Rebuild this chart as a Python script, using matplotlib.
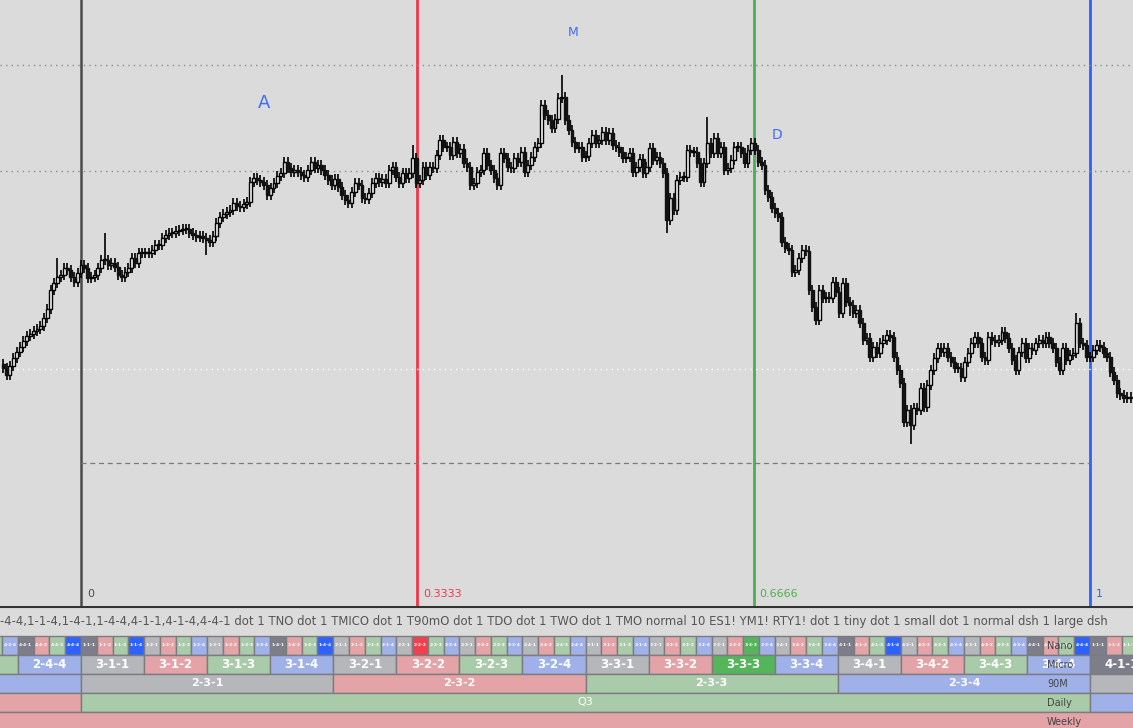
import numpy as np
import matplotlib.pyplot as plt
from matplotlib.patches import Rectangle

# close prices (y grows downward)
close_a = [368, 375, 366, 358, 352, 347, 341, 336, 334, 331, 329, 326, 318, 309,
           290, 283, 277, 275, 268, 270, 277, 282, 273, 265, 268, 278, 277, 275, 268, 260,
           260, 265, 263, 267, 275, 277, 272, 268, 258, 263, 253, 253, 253, 253, 250, 245,
           245, 238, 235, 233, 233, 231, 230, 229, 229, 233]
close_b = [235, 237, 236, 238, 240, 242, 236, 223, 217, 214, 212, 210, 203, 206, 207, 204,
           202, 182, 178, 180, 182, 185, 195, 188, 183, 176, 173, 162, 168, 172, 170, 172,
           175, 177, 170, 162, 168, 165, 170, 175, 180, 185, 179, 187, 195, 200, 203, 192,
           183, 185, 198, 199, 193, 183, 178, 182, 179, 183, 170, 167, 177, 183, 173, 178]
close_c = [173, 158, 183, 180, 167, 175, 167, 168, 155, 140, 147, 147, 155, 142, 153, 149,
           163, 167, 185, 183, 172, 170, 153, 165, 170, 178, 185, 153, 158, 167, 168, 158,
           162, 152, 172, 165, 157, 147, 143, 105, 115, 120, 128, 119, 98, 97, 120, 130,
           142, 148, 147, 157, 156, 143, 135]
close_d = [143, 140, 132, 140, 133, 145, 147, 152, 158, 157, 153, 172, 167, 159, 173, 167,
           148, 160, 157, 163, 173, 220, 198, 210, 180, 177, 177, 150, 152, 152, 163, 182,
           163, 143, 153, 138, 153, 147, 170, 168, 160, 147, 147, 153, 163, 150, 143, 150,
           162, 165, 190, 197, 208, 213, 217]
close_e = [242, 248, 250, 272, 270, 258, 250, 251, 290, 307, 320, 290, 298, 297, 298, 282,
           292, 313, 283, 302, 305, 313, 310, 323, 340, 338, 357, 347, 353, 343, 340, 335,
           337, 357, 370, 383, 422, 410, 425, 408, 410, 388, 407, 385, 370]
close_f = [358, 348, 352, 348, 357, 362, 368, 368, 377, 362, 353, 343, 337, 343, 357, 360,
           337, 340, 342, 340, 332, 338, 348, 360, 370, 352, 343, 358, 348, 350, 343, 340,
           343, 337, 343, 348, 362, 370, 348, 360, 355, 353, 323, 343, 345, 357, 357, 350,
           345, 347, 353, 357, 372, 380, 393, 395, 398, 397, 398]

# long wicks: bar index -> (extra above, extra below)
wick_spikes = {30: (22, 0), 121: (8, 0), 165: (17, 0), 196: (0, 8), 208: (21, 0),
               268: (0, 14), 317: (5, 0), 16: (14, 0), 60: (0, 10), 250: (0, 6)}

# price levels (pixel rows)
dotted_gray = [65, 171]
dotted_white = [369]
dashed_level = 463

# session markers (fraction of the day)
markers = [0, 1 / 3, 2 / 3, 1]
marker_labels = ["0", "0.3333", "0.6666", "1"]
marker_colors = ["#4a4a4a", "#f23645", "#4caf50", "#2962ff"]

letters = [("A", 0.1814, 103, 13), ("M", 0.4876, 32, 9), ("D", 0.6898, 135, 10)]

info_text = ("-4-4,1-1-4,1-4-1,1-4-4,4-1-1,4-1-4,4-4-1 dot 1 TNO dot 1 TMICO dot 1 T90mO "
             "dot 1 TDO dot 1 TWO dot 1 TMO normal 10 ES1! YM1! RTY1! dot 1 tiny dot 1 "
             "small dot 1 normal dsh 1 large dsh")

row_names = ["Nano", "Micro", "90M", "Daily", "Weekly"]
row_tops = [636, 655, 674, 693, 712]
row_bottoms = [655, 674, 693, 712, 730]

ninety_labels = ["2-2-4", "2-3-1", "2-3-2", "2-3-3", "2-3-4", "2-4-1"]
daily_labels = ["", "Q3", ""]
daily_colors = ["#e3a3a7", "#a9cba9", "#9fb1e8"]

base_colors = {1: "#b6b7bb", 2: "#e3a3a7", 3: "#a9cba9", 4: "#9fb1e8"}
hi_colors = {1: "#7d7e89", 2: "#f0404c", 3: "#55b55a", 4: "#2e62ff"}

BG = "#dbdbdb"
PX = 1009.0  # pixels per day
X0 = -81 / PX
X1 = 1052 / PX
CHART_H = 606


def cell_color(label):
    d = [int(v) for v in label.split("-")]
    special = len(set(d)) == 1 or set(d) <= {1, 4}
    return (hi_colors if special else base_colors)[d[-1]]


def tri_label(first, k):
    return "%d-%d-%d" % (first, (k // 4) % 4 + 1, k % 4 + 1)


fig = plt.figure(figsize=(11.33, 7.28), dpi=100)
fig.patch.set_facecolor(BG)

ax = fig.add_axes([0, 122 / 728, 1, 606 / 728])
ax.set_facecolor(BG)
ax.set_xlim(X0, X1)
ax.set_ylim(0, CHART_H)
ax.axis("off")

close_y = np.array(close_a + close_b + close_c + close_d + close_e + close_f, dtype=float)
close = CHART_H - close_y
n = len(close)
t = (np.arange(n) - 23) / 298.0
opn = np.concatenate([[close[0] + 4], close[:-1]])
high = np.maximum(opn, close) + 5
low = np.minimum(opn, close) - 5
for i, (up, dn) in wick_spikes.items():
    high[i] += up
    low[i] -= dn

for lvl in dotted_gray:
    ax.axhline(CHART_H - lvl, color="#8a8a8a", lw=1, ls=(0, (1, 3)))
for lvl in dotted_white:
    ax.axhline(CHART_H - lvl, color="white", lw=1, ls=(0, (1, 3)))
ax.plot([0, 1], [CHART_H - dashed_level] * 2, color="#7a7a7a", lw=0.9, ls=(0, (4, 3)))

for m, lab, col in zip(markers, marker_labels, marker_colors):
    ax.axvline(m, color=col, lw=2 if m > 0 else 1.8, zorder=1)
    ax.text(m + 6 / PX, 12, lab, color=col, fontsize=8, va="center", ha="left")

ax.vlines(t, low, high, color="black", lw=1.2, zorder=3)
body = np.abs(close - opn)
body = np.where(body < 1.5, 1.5, body)
up = close >= opn
w = 2.9 / PX
ax.bar(t[up], body[up], bottom=np.minimum(opn, close)[up], width=w,
       color="white", edgecolor="black", linewidth=1.0, zorder=4)
ax.bar(t[~up], body[~up], bottom=np.minimum(opn, close)[~up], width=w,
       color="#111111", edgecolor="#111111", linewidth=1.0, zorder=4)

for s, x, y, fs in letters:
    ax.text(x, CHART_H - y, s, color="#3d6ef0", fontsize=fs, ha="center", va="center")

# bottom panel: text line and the time table
tab = fig.add_axes([0, 0, 1, 122 / 728])
tab.set_facecolor(BG)
tab.set_xlim(X0, X1)
tab.set_ylim(728, 606)
tab.axis("off")
tab.axhline(607, color="#333333", lw=1.5)
tab.text(X0, 622, info_text, fontsize=8.4, color="#555555", va="center", ha="left")

edge = "#7c7c80"


def draw_row(r, start, width, labels, colors, fs, weight):
    y0, y1 = row_tops[r], row_bottoms[r]
    for j, (lab, col) in enumerate(zip(labels, colors)):
        x = start + j * width
        tab.add_patch(Rectangle((x, y0), width, y1 - y0, facecolor=col,
                                edgecolor=edge, lw=1))
        cx = x + width / 2
        if lab and X0 < cx < X1:
            tab.text(cx, (y0 + y1) / 2, lab, color="white", fontsize=fs,
                     ha="center", va="center", fontweight=weight, clip_on=True)


# nano: 64 per day
nano_k = range(-6, 68)
nano_lab = [tri_label((k % 64) // 16 + 1, k % 16) for k in nano_k]
draw_row(0, -6 / 64, 1 / 64, nano_lab, [cell_color(l) for l in nano_lab], 3.2, "bold")

# micro: 16 per day
micro_j = range(-2, 18)
micro_lab = [tri_label(3 + j // 16, j) for j in micro_j]
draw_row(1, -2 / 16, 1 / 16, micro_lab, [cell_color(l) for l in micro_lab], 8.5, "bold")

# 90 minute blocks
draw_row(2, -0.25, 0.25, ninety_labels, [cell_color(l) for l in ninety_labels], 8, "bold")

draw_row(3, -1, 1, daily_labels, daily_colors, 8, "normal")
draw_row(4, -1, 3, [""], ["#e3a3a7"], 8, "normal")

for name, y0, y1 in zip(row_names, row_tops, row_bottoms):
    tab.text(1047 / PX + X0, (y0 + y1) / 2 + 1, name, fontsize=7, color="#444444",
             va="center", ha="left")

fig.savefig("out.png", dpi=100, facecolor=BG)
